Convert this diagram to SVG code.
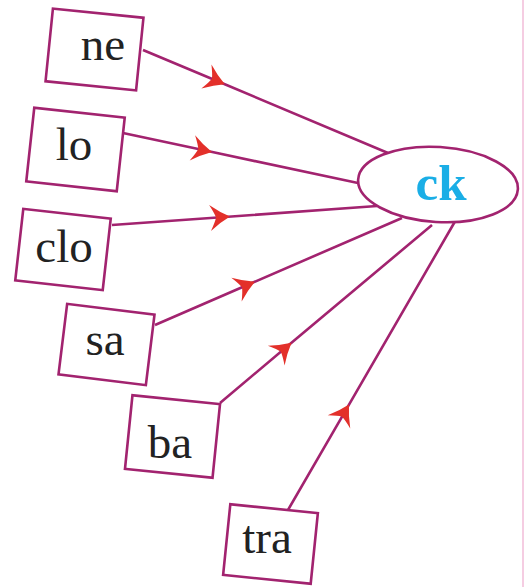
<svg xmlns="http://www.w3.org/2000/svg" width="525" height="587" viewBox="0 0 525 587">
<defs>
<style>
.box{fill:#fff;stroke:#a2236f;stroke-width:2.6}
.lbl{font-family:"Liberation Serif","Times New Roman",serif;font-size:47px;fill:#222;text-anchor:middle}
.conn{fill:none;stroke:#a2236f;stroke-width:2.6;marker-mid:url(#arr)}
.hub{fill:#fff;stroke:#a2236f;stroke-width:2.6}
.hubtxt{font-family:"Liberation Serif","Times New Roman",serif;font-size:51px;font-weight:bold;fill:#1aaee6;text-anchor:middle}
</style>
<marker id="arr" markerUnits="userSpaceOnUse" markerWidth="44" markerHeight="44" viewBox="-22 -22 44 44" refX="0" refY="0" orient="auto">
<path d="M2,0 Q-8,-5 -18,-13 Q-13,-4 -12,0 Q-13,4 -18,13 Q-8,5 2,0 Z" fill="#e3302a"/>
</marker>
</defs>
<rect width="525" height="587" fill="#fff"/>
<line x1="523" y1="0" x2="523" y2="587" stroke="#f2bcd9" stroke-width="1.5"/>
<g id="connectors">
<polyline class="conn" points="143,50 223,83.5 388,153"/>
<polyline class="conn" points="123,133 210,151.6 358,183"/>
<polyline class="conn" points="112,225 228,216.7 377,206"/>
<polyline class="conn" points="155,325 253,282.5 402,218"/>
<polyline class="conn" points="220,403 290,344 432,225"/>
<polyline class="conn" points="288,510 348,406.3 457,218"/>
</g>
<g id="node-ne">
<rect class="box" x="-45.5" y="-36.5" width="91" height="73" transform="translate(94.5,49.5) rotate(5.8)"/>
<text class="lbl" x="103" y="60">ne</text>
</g>
<g id="node-lo">
<rect class="box" x="-45.5" y="-37" width="91" height="74" transform="translate(75.5,149.5) rotate(6.2)"/>
<text class="lbl" x="74" y="160">lo</text>
</g>
<g id="node-clo">
<rect class="box" x="-44" y="-36" width="88" height="72" transform="translate(63,249.5) rotate(6.4)"/>
<text class="lbl" x="64" y="262">clo</text>
</g>
<g id="node-sa">
<rect class="box" x="-44" y="-35.5" width="88" height="71" transform="translate(106.5,344.5) rotate(7)"/>
<text class="lbl" x="105" y="355">sa</text>
</g>
<g id="node-ba">
<rect class="box" x="-44" y="-37" width="88" height="74" transform="translate(172.5,436.5) rotate(5.8)"/>
<text class="lbl" x="170" y="458">ba</text>
</g>
<g id="node-tra">
<rect class="box" x="-44" y="-35.5" width="88" height="71" transform="translate(270.5,544) rotate(5.8)"/>
<text class="lbl" x="267" y="553">tra</text>
</g>
<g id="node-ck">
<ellipse class="hub" cx="438" cy="184.5" rx="80" ry="37.5" transform="rotate(3.5 438 184.5)"/>
<text class="hubtxt" x="441" y="200">ck</text>
</g>
</svg>
